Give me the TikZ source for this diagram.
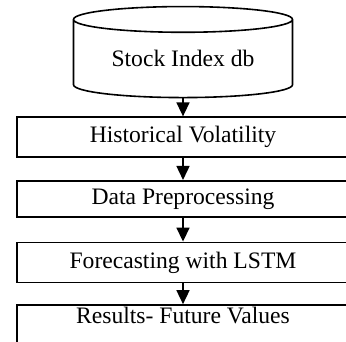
\documentclass[tikz,border=0pt]{standalone}
\usepackage{fontspec}
\setmainfont{Liberation Serif}
\usetikzlibrary{positioning,shapes.geometric,arrows.meta}
\tikzset{
	stage/.style={draw, line width=0.8pt, minimum width=166pt, minimum height=20pt, inner sep=0pt,
		font=\fontsize{11.8}{13}\selectfont},
	dbstore/.style={draw, line width=0.8pt, cylinder, shape border rotate=90, aspect=0.18,
		minimum width=109.5pt, minimum height=45.5pt, inner sep=0pt, font=\fontsize{11.8}{13}\selectfont},
	flow/.style={-{Triangle[width=6.5pt,length=7pt]}, line width=0.8pt}
}

\begin{document}
\begin{tikzpicture}[x=0.5pt, y=0.5pt]
					\useasboundingbox (0,0) rectangle (346,341);

					\node[dbstore] (db) at (183,282.1) {Stock Index db};

					\node[stage, below=9pt of db] (hv) {Historical Volatility};
					\node[stage, below=11pt of hv, minimum height=18pt] (prep) {Data Preprocessing};
					\node[stage, below=12pt of prep] (lstm) {Forecasting with LSTM};
					\node[stage, below=10.5pt of lstm, minimum height=0pt, inner ysep=1.5pt,
						text height=8pt, text depth=12pt] (res) {Results- Future Values};

					\draw[flow] (db) -- (hv);
					\draw[flow] (hv) -- (prep);
					\draw[flow] (prep) -- (lstm);
					\draw[flow] (lstm) -- (res);

				\end{tikzpicture}
\end{document}
